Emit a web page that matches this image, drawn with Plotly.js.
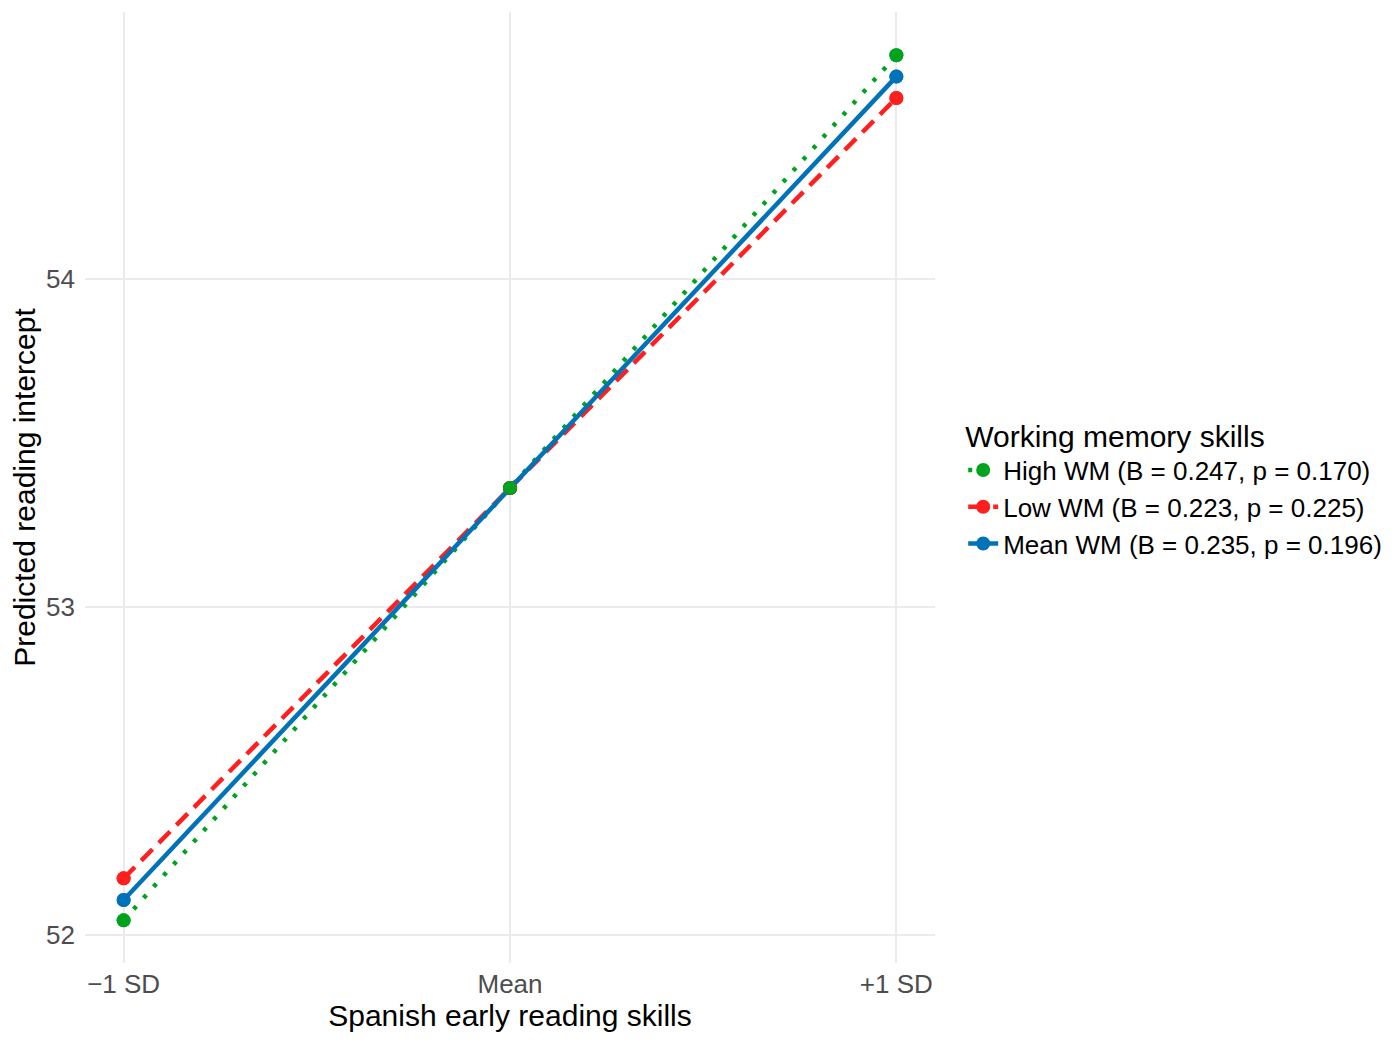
<!DOCTYPE html>
<html>
<head>
<meta charset="utf-8">
<script src="https://cdn.plot.ly/plotly-3.0.1.min.js"></script>
<style>
  html, body { margin: 0; padding: 0; background: #fff; }
  #chart { width: 1400px; height: 1045px; }
</style>
</head>
<body>
<div id="chart"></div>
<script>
// Data

const readingLevels = ["\u22121 SD", "Mean", "+1 SD"];

const highWM = [52.045, 53.363, 54.682];
const lowWM = [52.173, 53.363, 54.552];
const meanWM = [52.107, 53.363, 54.617];

const seriesNames = [
  "High WM (B = 0.247, p = 0.170)",
  "Low WM (B = 0.223, p = 0.225)",
  "Mean WM (B = 0.235, p = 0.196)",
];

// Styles

const green = "#00a21e";
const red = "#ff1f1f";
const blue = "#0073b8";
const lineWidth = 4.5;
const markerSize = 14;

const xPos = [0, 1, 2];

const lineTrace = function (y, name, color, dash, rank) {
  return {
    x: xPos,
    y: y,
    name: name,
    type: "scatter",
    mode: "lines+markers",
    line: { color: color, width: lineWidth, dash: dash },
    marker: { color: color, size: markerSize },
    legendrank: rank,
    hoverinfo: "skip",
  };
};

const pointTrace = function (y, color) {
  return {
    x: xPos,
    y: y,
    type: "scatter",
    mode: "markers",
    marker: { color: color, size: markerSize },
    showlegend: false,
    hoverinfo: "skip",
  };
};

const data = [
  lineTrace(highWM, seriesNames[0], green, "4px,11px", 1),
  lineTrace(lowWM, seriesNames[1], red, "16px,9px", 2),
  lineTrace(meanWM, seriesNames[2], blue, "solid", 3),
  // points go on top of all lines
  pointTrace(meanWM, blue),
  pointTrace(lowWM, red),
  pointTrace(highWM, green),
];

const layout = {
  width: 1400,
  height: 1045,
  paper_bgcolor: "#ffffff",
  plot_bgcolor: "#ffffff",
  font: { family: "Liberation Sans, Arial, sans-serif", color: "#000" },
  margin: { l: 85, r: 465, t: 12, b: 82 },
  xaxis: {
    range: [-0.1, 2.1],
    tickvals: xPos,
    ticktext: readingLevels,
    showgrid: true,
    gridcolor: "#ebebeb",
    gridwidth: 2,
    zeroline: false,
    showline: false,
    ticks: "",
    ticklabelstandoff: 3,
    tickfont: { size: 26, color: "#4d4d4d" },
    title: {
      text: "Spanish early reading skills",
      font: { size: 30, color: "#000" },
      standoff: 3,
    },
    automargin: false,
  },
  yaxis: {
    range: [51.915, 54.814],
    tickvals: [52, 53, 54],
    showgrid: true,
    gridcolor: "#ebebeb",
    gridwidth: 2,
    zeroline: false,
    showline: false,
    ticks: "",
    ticklabelstandoff: 9,
    tickfont: { size: 26, color: "#4d4d4d" },
    title: {
      text: "Predicted reading intercept",
      font: { size: 30, color: "#000" },
      standoff: 1,
    },
    automargin: false,
  },
  legend: {
    xref: "container",
    yref: "container",
    x: 0.688,
    y: 0.61,
    xanchor: "left",
    yanchor: "top",
    font: { size: 26, color: "#000" },
    title: { text: "Working memory skills", font: { size: 30, color: "#000" } },
    tracegroupgap: 0,
    itemwidth: 30,
    bgcolor: "rgba(0,0,0,0)",
  },
  showlegend: true,
};

Plotly.newPlot("chart", data, layout, {
  displayModeBar: false,
  staticPlot: true,
});
</script>
</body>
</html>
